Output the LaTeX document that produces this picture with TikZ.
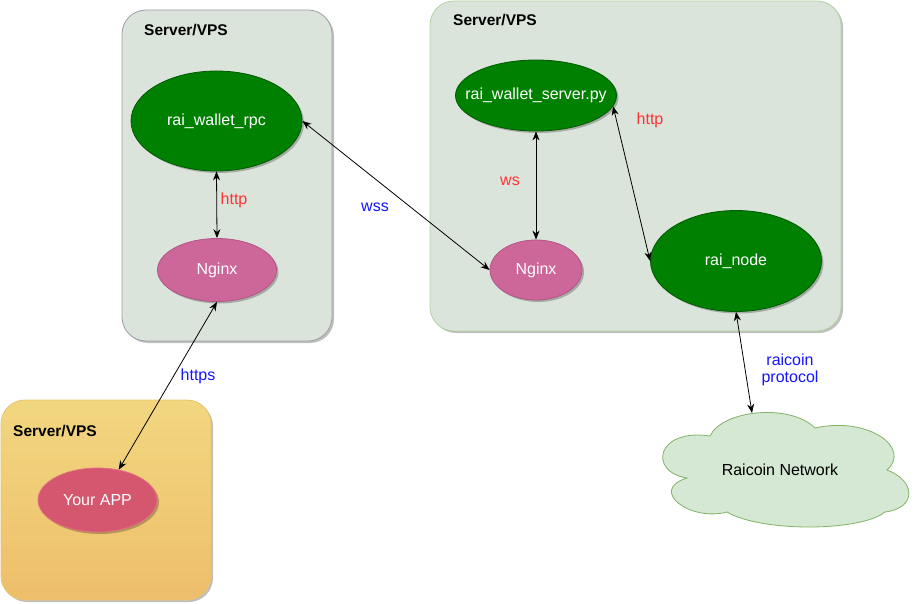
\documentclass[tikz,border=0pt]{standalone}
\usepackage{fontspec}
\setmainfont{Liberation Sans}
\usetikzlibrary{arrows.meta,shadows,shapes.geometric}
\definecolor{boxfill}{RGB}{219,228,219}
\definecolor{boxgray}{RGB}{158,156,170}
\definecolor{boxgreen}{RGB}{178,211,160}
\definecolor{ytop}{RGB}{242,215,128}
\definecolor{ybot}{RGB}{238,190,106}
\definecolor{yborder}{RGB}{230,195,110}
\definecolor{gfill}{RGB}{0,128,0}
\definecolor{gborder}{RGB}{0,90,0}
\definecolor{pfill}{RGB}{205,102,153}
\definecolor{pborder}{RGB}{180,85,135}
\definecolor{afill}{RGB}{212,87,111}
\definecolor{aborder}{RGB}{225,110,130}
\definecolor{cfill}{RGB}{213,232,212}
\definecolor{cborder}{RGB}{130,179,102}
\definecolor{lred}{RGB}{255,51,51}
\definecolor{lblue}{RGB}{20,20,255}
\tikzset{
  shd/.style={drop shadow={shadow xshift=2pt,shadow yshift=-2pt,opacity=0.25,fill=black}},
  box/.style={rounded corners=24pt,line width=0.8pt,fill=boxfill,shd},
  title/.style={font=\fontsize{15.5}{18}\selectfont\bfseries,anchor=west,inner sep=0pt},
  ell/.style={ellipse,inner sep=0pt,line width=0.8pt,shd},
  gell/.style={ell,fill=gfill,draw=gborder},
  pell/.style={ell,fill=pfill,draw=pborder},
  aell/.style={ell,fill=afill,draw=aborder},
  wtxt/.style={font=\fontsize{16}{19}\selectfont,text=white,inner sep=0pt},
  lbl/.style={font=\fontsize{16}{19}\selectfont,inner sep=0pt,align=center},
  conn/.style={{Stealth[length=9pt,width=7pt]}-{Stealth[length=9pt,width=7pt]},line width=0.8pt}
}
\begin{document}
\begin{tikzpicture}[x=1pt,y=-1pt]
\useasboundingbox (0,0) rectangle (921,604);
% containers
\path[box,draw=boxgray] (122,10) rectangle (332,341);
\path[box,draw=boxgreen] (430,1) rectangle (841,331);
\path[box,draw=yborder,top color=ytop,bottom color=ybot] (1,400) rectangle (211,600);
\node[title] (t1) at (144,30) {Server/VPS};
\node[title] (t2) at (453,20) {Server/VPS};
\node[title] (t3) at (13,431) {Server/VPS};
% cloud
\path[fill=cfill,draw=cborder,line width=0.8pt]
  (710,436) .. controls (722,410) and (790,403) .. (815,428)
  .. controls (868,416) and (912,448) .. (887,470)
  .. controls (915,480) and (918,508) .. (885,512)
  .. controls (860,532) and (760,532) .. (727,512)
  .. controls (690,522) and (648,490) .. (687,478)
  .. controls (648,472) and (656,428) .. (710,436) -- cycle;
\node[lbl] (cloud) at (780,470) {Raicoin Network};
\coordinate (cloudtop) at (752,413);
% nodes
\node[gell,minimum width=171pt,minimum height=100pt] (rpc) at (216.5,121) {};
\node[wtxt] (rpct) at (rpc.center) {rai\_wallet\_rpc};
\node[pell,minimum width=119pt,minimum height=63pt] (lng) at (217,270) {};
\node[wtxt] (lngt) at (lng.center) {Nginx};
\node[gell,minimum width=161pt,minimum height=71pt] (srv) at (536,95.5) {};
\node[wtxt] (srvt) at (srv.center) {rai\_wallet\_server.py};
\node[pell,minimum width=92pt,minimum height=60pt] (rng) at (536,270) {};
\node[wtxt] (rngt) at (rng.center) {Nginx};
\node[gell,minimum width=171pt,minimum height=101pt] (node) at (736,261) {};
\node[wtxt] (nodet) at (node.center) {rai\_node};
\node[aell,minimum width=119pt,minimum height=64pt] (app) at (97.5,500) {};
\node[wtxt] (appt) at (app.center) {Your APP};
% connectors
\draw[conn] (rpc.south) -- (lng.north);
\draw[conn] (lng.south) -- (app.55);
\draw[conn] (rpc.east) -- (rng.west);
\draw[conn] (srv.south) -- (rng.north);
\draw[conn] (srv.-8) -- (node.west);
\draw[conn] (node.south) -- (cloudtop);
% labels
\node[lbl,text=lred] (l1) at (234,200) {http};
\node[lbl,text=lblue] (l2) at (198,376) {https};
\node[lbl,text=lblue] (l3) at (375,207) {wss};
\node[lbl,text=lred] (l4) at (510,181) {ws};
\node[lbl,text=lred] (l5) at (650,120) {http};
\node[lbl,text=lblue] (l6) at (790,370) {raicoin\\[-2pt]protocol};
\end{tikzpicture}
\end{document}
